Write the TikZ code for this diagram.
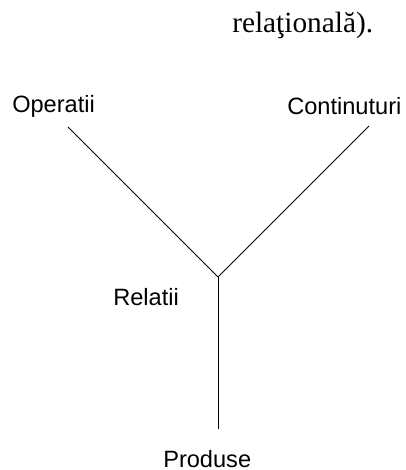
\documentclass[tikz,border=0pt]{standalone}
\usepackage{fontspec}
\setmainfont{Liberation Serif}
\newfontfamily\labelfont{Liberation Sans}
\usepackage{tikz}
\usetikzlibrary{positioning}

\begin{document}
\begin{tikzpicture}[
  x=0.75pt,y=-0.75pt,
  caption/.style={inner sep=0pt,anchor=base west,font=\fontsize{22}{26}\selectfont},
  lbl/.style={inner sep=0pt,anchor=base west,font=\labelfont\fontsize{17.7}{21}\selectfont},
  branch/.style={line width=0.6pt}
]
  \useasboundingbox (0,0) rectangle (405,470);
  \node[caption] (cap) at (232,33) {relaţională).};

  \node[lbl] (ops) at (12,113) {Operatii};
  \node[lbl] (cont) at (287,115) {Continuturi};
  \node[lbl] (rel) at (113,305) {Relatii};
  \node[lbl] (prod) at (163,467) {Produse};

  \coordinate (hub) at (218,277);
  \coordinate (opsend) at (68,127);
  \coordinate (contend) at (369,126);
  \coordinate (prodend) at (218,429);

  \draw[branch] (opsend) -- (hub);
  \draw[branch] (contend) -- (hub);
  \draw[branch] (hub) -- (prodend);
\end{tikzpicture}
\end{document}
